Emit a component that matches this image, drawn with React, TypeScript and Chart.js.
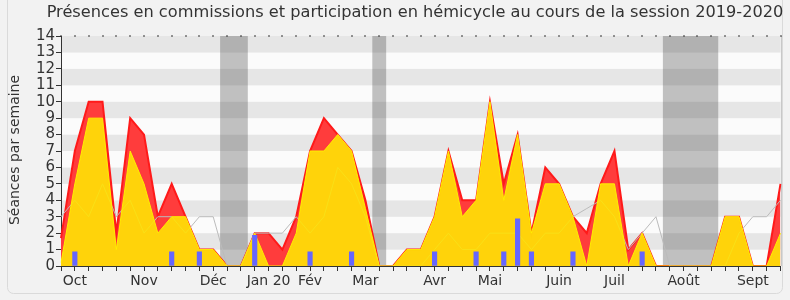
import React, { useEffect, useRef } from "react";
import { Chart, registerables } from "chart.js";

Chart.register(...registerables);

const chartTitle =
  "Présences en commissions et participation en hémicycle au cours de la session 2019-2020";
const yAxisTitle = "Séances par semaine";

// one category per week (53 weeks), month name at the week where it is written
const weekLabels = [
  "", "Oct", "", "", "", "", "Nov", "", "", "", "", "Déc", "", "", "", "Jan 20", "", "", "Fév", "", "", "", "Mar", "", "", "", "", "Avr", "", "", "", "Mai", "", "", "", "", "Juin", "", "", "", "Juil", "", "", "", "", "Août", "", "", "", "", "Sept", "", "",
];

// total presences (red area)
const presencesTotal = [
  1.7, 7, 10, 10, 2, 9, 8, 3, 5, 3, 1, 1, 0, 0, 2, 2, 1, 3, 7, 9, 8, 7, 4, 0, 0, 1, 1, 3, 7, 4, 4, 10, 5, 8, 2, 6, 5, 3, 2, 5, 7, 1, 2, 0, 0, 0, 0, 0, 3, 3, 0, 0, 5,
];

// commission presences (yellow area)
const presencesCommission = [
  0.2, 5, 9, 9, 1, 7, 5, 2, 3, 3, 1, 1, 0, 0, 2, 0, 0, 2, 7, 7, 8, 7, 3.5, 0, 0, 1, 1, 3, 7, 3, 4, 10, 4, 8, 2, 5, 5, 3, 0, 5, 5, 0, 2, 0, 0, 0, 0, 0, 3, 3, 0, 0, 2,
];

// median of deputies (grey line)
const medianDeputes = [
  3, 4, 3, 5, 3, 4, 2, 3, 3, 2, 3, 3, 0, 0, 2, 2, 2, 3, 2, 3, 6, 5, 3, 0, 0, 0, 0, 1, 2, 1, 1, 2, 2, 2, 1, 2, 2, 3, 3.5, 4, 3, 1, 2, 3, 0, 0, 0, 0, 0, 2, 3, 3, 4,
];

// hemicycle interventions (blue bars)
const interventions = [
  null, 0.87, null, null, null, null, null, null, 0.87, null, 0.87, null, null, null, 1.87, null, null, null, 0.87, null, null, 0.87, null, null, null, null, null, 0.87, null, null, 0.87, null, 0.87, 2.87, 0.87, null, null, 0.87, null, null, null, null, 0.87, null, null, null, null, null, null, null, null, null, null,
];

// parliamentary holidays, in week-index units
const vacancesStart = [11.5, 22.5, 43.5];
const vacancesEnd = [13.5, 23.5, 47.5];

const yMax = 14;

const decorPlugin = {
  id: "decor",
  beforeDraw(chart: any) {
    const { ctx, width, height, chartArea: a, scales } = chart;
    const x = scales.x;
    const y = scales.y;
    ctx.save();
    ctx.fillStyle = "#f2f2f2";
    ctx.fillRect(0, 0, width, height);
    ctx.strokeStyle = "#dadada";
    ctx.lineWidth = 1;
    ctx.beginPath();
    (ctx as any).roundRect(7.5, -10, 775, 303.5, 6);
    ctx.stroke();

    // title
    ctx.fillStyle = "#333";
    ctx.font = '16.2px "DejaVu Sans"';
    ctx.textAlign = "center";
    ctx.textBaseline = "middle";
    ctx.fillText(chartTitle, 415, 13);

    // y title
    ctx.save();
    ctx.translate(15, 150);
    ctx.rotate(-Math.PI / 2);
    ctx.font = '14px "DejaVu Sans"';
    ctx.fillText(yAxisTitle, 0, 0);
    ctx.restore();

    // horizontal bands
    for (let v = 0; v < yMax; v++) {
      const y0 = y.getPixelForValue(v);
      const y1 = y.getPixelForValue(v + 1);
      ctx.fillStyle = v % 2 === 1 ? "#e6e6e6" : "#fbfbfb";
      ctx.fillRect(a.left, y1, a.right - a.left, y0 - y1);
    }
    // holidays
    ctx.fillStyle = "rgba(40,40,40,0.28)";
    for (let i = 0; i < vacancesStart.length; i++) {
      const x0 = x.getPixelForValue(vacancesStart[i]);
      const x1 = x.getPixelForValue(vacancesEnd[i]);
      ctx.fillRect(x0, a.top, x1 - x0, a.bottom - a.top);
    }
    // right border
    ctx.fillStyle = "#c8c8c8";
    ctx.fillRect(Math.round(a.right), a.top, 1, a.bottom - a.top);
    ctx.restore();
  },
  afterDraw(chart: any) {
    const { ctx, chartArea: a, scales } = chart;
    const x = scales.x;
    ctx.save();
    ctx.fillStyle = "#333";
    for (let i = 0; i < weekLabels.length; i++) {
      const px = Math.round(x.getPixelForValue(i));
      ctx.fillRect(px - 0.5, a.top - 1, 1, 2);
    }
    ctx.restore();
  },
};

export default function App() {
  const ref = useRef<HTMLCanvasElement | null>(null);
  useEffect(() => {
    document.body.style.margin = "0";
    if (!ref.current) return;
    const chart = new Chart(ref.current, {
      type: "bar",
      data: {
        labels: weekLabels,
        datasets: [
          {
            type: "bar",
            data: interventions as any,
            backgroundColor: "#6666ff",
            barThickness: 4.5,
            order: 0,
          } as any,
          {
            type: "line",
            data: presencesCommission,
            borderColor: "#ffee00",
            borderWidth: 1,
            backgroundColor: "rgba(255,227,4,0.9)",
            fill: "origin",
            pointRadius: 0,
            tension: 0,
            order: 1,
          },
          {
            type: "line",
            data: medianDeputes,
            borderColor: "#bbbbbb",
            borderWidth: 1,
            fill: false,
            pointRadius: 0,
            tension: 0,
            order: 2,
          },
          {
            type: "line",
            data: presencesTotal,
            borderColor: "#ff1a1a",
            borderWidth: 2,
            backgroundColor: "#ff3c3c",
            fill: "origin",
            pointRadius: 0,
            tension: 0,
            order: 3,
          },
        ],
      },
      options: {
        responsive: false,
        animation: false,
        events: [],
        layout: { padding: { top: 36, right: 9.5, bottom: 0, left: 0 } },
        plugins: {
          legend: { display: false },
          tooltip: { enabled: false },
          title: { display: false },
        },
        scales: {
          x: {
            type: "category",
            offset: false,
            grid: {
              offset: false,
              drawOnChartArea: false,
              drawTicks: true,
              tickLength: 5,
              color: "#333",
            },
            border: { color: "#333" },
            ticks: {
              autoSkip: false,
              maxRotation: 0,
              minRotation: 0,
              padding: 2,
              color: "#333",
              font: { family: "DejaVu Sans", size: 14 },
            },
            afterFit: (s: any) => {
              s.height = 34;
            },
          },
          y: {
            min: 0,
            max: yMax,
            ticks: {
              stepSize: 1,
              autoSkip: false,
              padding: 1,
              color: "#333",
              font: { family: "DejaVu Sans", size: 15 },
            },
            grid: {
              drawOnChartArea: false,
              drawTicks: true,
              tickLength: 5,
              color: "#333",
            },
            border: { color: "#333" },
            afterFit: (s: any) => {
              s.width = 61;
            },
          },
        },
      },
      plugins: [decorPlugin],
    });
    return () => chart.destroy();
  }, []);
  return (
    <div style={{ width: 790, height: 300 }}>
      <canvas ref={ref} width={790} height={300} style={{ display: "block" }} />
    </div>
  );
}
